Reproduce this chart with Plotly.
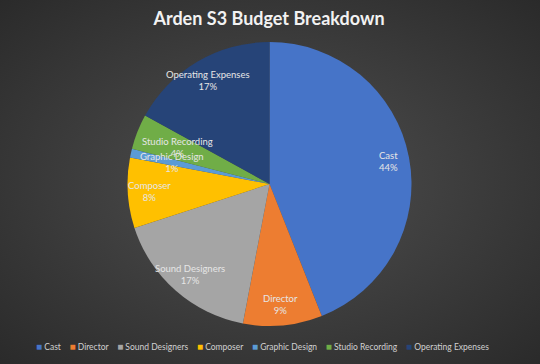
import math
import plotly.graph_objects as go

categories = ["Cast", "Director", "Sound Designers", "Composer", "Graphic Design", "Studio Recording", "Operating Expenses"]
values = [44, 9, 17, 8, 1, 4, 17]
colors = ["#4674C8", "#ED7D31", "#A5A5A5", "#FFC000", "#5B9BD5", "#70AD47", "#264478"]

W, H = 540, 364
cx, cy, R = 269.5, 184, 142

bg_svg = (
    "data:image/svg+xml;utf8,"
    "<svg xmlns='http://www.w3.org/2000/svg' width='540' height='364'>"
    "<defs><radialGradient id='g' cx='50%' cy='50%' r='75%'>"
    "<stop offset='0%' stop-color='%23505050'/>"
    "<stop offset='100%' stop-color='%23282828'/>"
    "</radialGradient></defs>"
    "<rect width='540' height='364' fill='url(%23g)'/></svg>"
)

fig = go.Figure(go.Pie(
    labels=categories,
    values=values,
    sort=False,
    direction="clockwise",
    rotation=0,
    marker=dict(colors=colors, line=dict(width=0)),
    textinfo="none",
    domain=dict(x=[(cx - R) / W, (cx + R) / W], y=[(H - cy - R) / H, (H - cy + R) / H]),
    hoverinfo="label+percent",
    showlegend=False,
))

# data labels placed inside each slice (best-fit style), computed from the values
total = sum(values)
annotations = []
cum = 0
for lab, v in zip(categories, values):
    mid = (cum + v / 2) / total * 2 * math.pi
    cum += v
    frac = 0.70 if v / total < 0.05 else 0.85
    px = cx + frac * R * math.sin(mid)
    py = cy - frac * R * math.cos(mid)
    annotations.append(dict(
        x=px / W, y=1 - py / H, xref="paper", yref="paper",
        text=f"{lab}<br>{round(100 * v / total)}%", showarrow=False,
        xanchor="center", yanchor="middle", align="center",
        font=dict(family="Lato", size=9.5, color="#e6e6e6"),
    ))

# legend row
sp = "\u00a0" * 4
items = [f"<span style='color:{c};font-size:10px'>■</span>\u00a0{lab}" for lab, c in zip(categories, colors)]
annotations.append(dict(
    x=262.5 / W, y=1 - 346 / H, xref="paper", yref="paper",
    text=sp.join(items), showarrow=False, xanchor="center", yanchor="middle",
    font=dict(family="Lato", size=8.5, color="#d0d0d0"),
))

fig.update_layout(
    width=W, height=H,
    margin=dict(l=0, r=0, t=0, b=0),
    paper_bgcolor="#3a3a3a",
    plot_bgcolor="rgba(0,0,0,0)",
    images=[dict(source=bg_svg, xref="paper", yref="paper", x=0, y=1, sizex=1, sizey=1,
                 xanchor="left", yanchor="top", sizing="stretch", layer="below")],
    title=dict(text="<b>Arden S3 Budget Breakdown</b>", x=269 / W, xanchor="center", y=1 - 19 / H, yanchor="middle",
               font=dict(family="Lato", size=18, color="#f2f2f2")),
    annotations=annotations,
    showlegend=False,
)

fig.write_html("out.html", config={"displayModeBar": False},
               post_script="document.body.style.margin='0';document.body.style.padding='0';")
